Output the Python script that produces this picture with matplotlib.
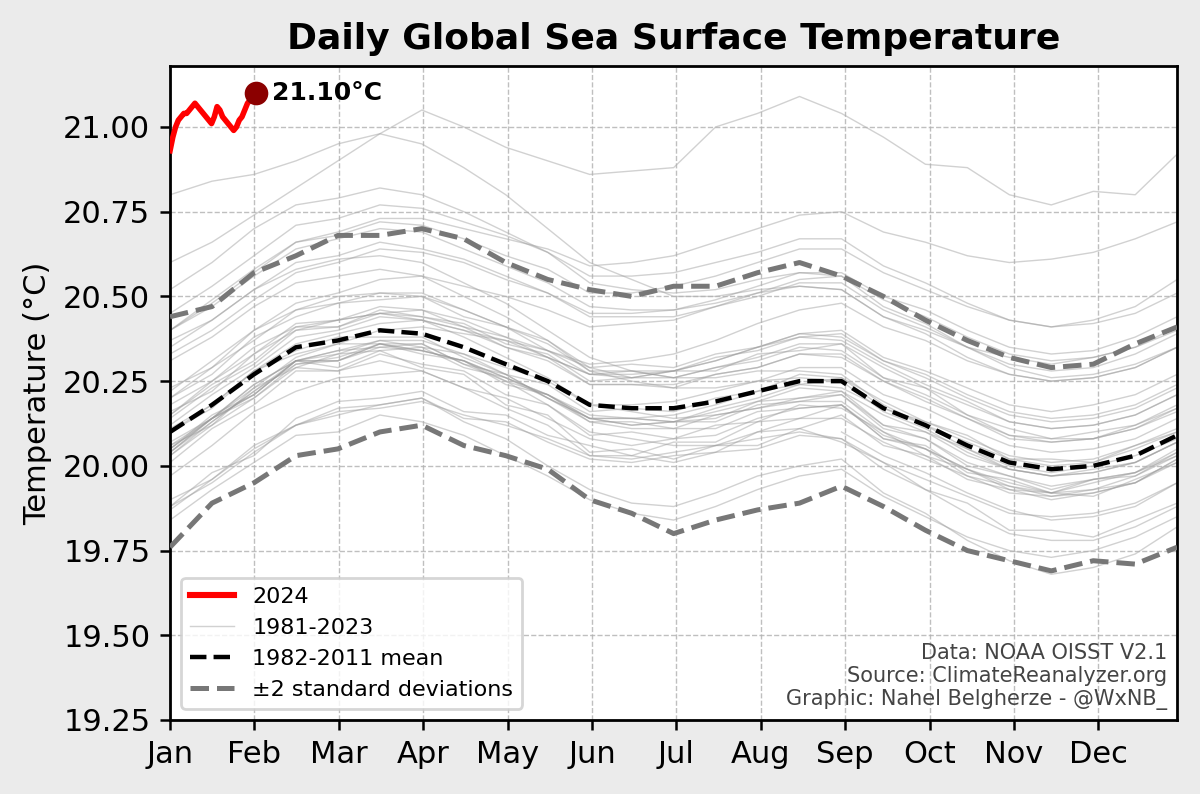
import numpy as np
import matplotlib.pyplot as plt

# ---- data (degC) ----
months = ['Jan', 'Feb', 'Mar', 'Apr', 'May', 'Jun', 'Jul', 'Aug', 'Sep', 'Oct', 'Nov', 'Dec']

# 2024 daily values, Jan 1 .. Feb 1
sst_2024 = [20.93, 20.97, 21.00, 21.02, 21.03, 21.04, 21.04, 21.05, 21.06, 21.07, 21.06,
            21.05, 21.04, 21.03, 21.02, 21.01, 21.03, 21.06, 21.05, 21.03, 21.02, 21.01,
            21.00, 20.99, 21.00, 21.02, 21.03, 21.05, 21.07, 21.08, 21.09, 21.10]

# climatology (25 samples through the year)
clim_mean = [20.10, 20.18, 20.27, 20.35, 20.37, 20.40, 20.39, 20.35, 20.30, 20.25, 20.18, 20.17, 20.17,
             20.19, 20.22, 20.25, 20.25, 20.17, 20.12, 20.06, 20.01, 19.99, 20.00, 20.03, 20.09]
clim_upper = [20.44, 20.47, 20.57, 20.62, 20.68, 20.68, 20.70, 20.67, 20.60, 20.55, 20.52, 20.50, 20.53,
              20.53, 20.57, 20.60, 20.56, 20.50, 20.43, 20.37, 20.32, 20.29, 20.30, 20.36, 20.41]
clim_lower = [19.76, 19.89, 19.95, 20.03, 20.05, 20.10, 20.12, 20.06, 20.03, 19.99, 19.90, 19.86, 19.80,
              19.84, 19.87, 19.89, 19.94, 19.88, 19.81, 19.75, 19.72, 19.69, 19.72, 19.71, 19.76]

# past years (same 25 samples); 1981 record starts in September
sst_1981 = [20.10, 20.03, 19.98, 19.92, 19.87, 19.84, 19.85, 19.88, 19.95]
sst_1982 = [19.88, 19.98, 20.03, 20.14, 20.19, 20.20, 20.22, 20.16, 20.15, 20.09, 20.06, 20.03, 20.07, 20.07, 20.13, 20.14, 20.18, 20.08, 20.06, 19.98, 19.96, 19.92, 19.96, 19.97, 20.04]
sst_1983 = [20.05, 20.15, 20.21, 20.31, 20.29, 20.34, 20.29, 20.27, 20.18, 20.15, 20.04, 20.05, 20.02, 20.06, 20.06, 20.11, 20.07, 20.01, 19.93, 19.89, 19.81, 19.81, 19.79, 19.84, 19.89]
sst_1984 = [19.90, 19.96, 20.05, 20.12, 20.15, 20.18, 20.20, 20.13, 20.08, 20.00, 19.93, 19.89, 19.88, 19.92, 19.97, 20.00, 20.02, 19.92, 19.86, 19.78, 19.72, 19.68, 19.70, 19.74, 19.82]
sst_1985 = [19.84, 19.93, 20.01, 20.09, 20.10, 20.15, 20.13, 20.09, 20.03, 19.97, 19.90, 19.86, 19.84, 19.88, 19.93, 19.97, 19.99, 19.91, 19.85, 19.79, 19.75, 19.73, 19.75, 19.79, 19.85]
sst_1986 = [19.87, 19.96, 20.06, 20.12, 20.17, 20.18, 20.20, 20.14, 20.13, 20.07, 20.02, 20.01, 20.03, 20.04, 20.10, 20.11, 20.15, 20.06, 20.03, 19.96, 19.93, 19.90, 19.92, 19.95, 20.02]
sst_1987 = [20.04, 20.14, 20.21, 20.31, 20.33, 20.37, 20.35, 20.33, 20.27, 20.24, 20.16, 20.17, 20.16, 20.20, 20.22, 20.27, 20.26, 20.19, 20.13, 20.09, 20.02, 20.02, 20.01, 20.06, 20.10]
sst_1988 = [20.10, 20.17, 20.28, 20.33, 20.36, 20.36, 20.36, 20.30, 20.25, 20.18, 20.10, 20.08, 20.06, 20.06, 20.08, 20.10, 20.08, 19.99, 19.93, 19.86, 19.80, 19.78, 19.78, 19.82, 19.88]
sst_1989 = [19.88, 19.95, 20.04, 20.12, 20.16, 20.17, 20.19, 20.15, 20.12, 20.08, 20.03, 20.02, 20.04, 20.06, 20.10, 20.14, 20.14, 20.07, 20.02, 19.97, 19.92, 19.91, 19.92, 19.95, 20.01]
sst_1990 = [20.03, 20.13, 20.22, 20.31, 20.31, 20.36, 20.34, 20.31, 20.24, 20.21, 20.13, 20.13, 20.11, 20.15, 20.17, 20.20, 20.21, 20.12, 20.08, 20.01, 19.97, 19.94, 19.96, 19.98, 20.05]
sst_1991 = [20.06, 20.12, 20.23, 20.29, 20.33, 20.34, 20.35, 20.29, 20.26, 20.20, 20.14, 20.12, 20.13, 20.14, 20.19, 20.20, 20.22, 20.12, 20.10, 20.03, 19.99, 19.97, 19.99, 20.01, 20.07]
sst_1992 = [20.05, 20.14, 20.20, 20.29, 20.28, 20.31, 20.28, 20.23, 20.17, 20.12, 20.03, 20.03, 20.01, 20.04, 20.05, 20.09, 20.08, 20.01, 19.96, 19.91, 19.86, 19.85, 19.86, 19.89, 19.95]
sst_1993 = [19.97, 20.06, 20.16, 20.22, 20.26, 20.27, 20.28, 20.23, 20.20, 20.14, 20.08, 20.06, 20.08, 20.09, 20.14, 20.17, 20.18, 20.09, 20.05, 19.99, 19.95, 19.92, 19.95, 19.98, 20.03]
sst_1994 = [20.04, 20.14, 20.21, 20.31, 20.31, 20.36, 20.33, 20.31, 20.26, 20.21, 20.15, 20.14, 20.15, 20.18, 20.22, 20.24, 20.26, 20.17, 20.13, 20.08, 20.03, 20.01, 20.02, 20.06, 20.11]
sst_1995 = [20.11, 20.18, 20.28, 20.34, 20.38, 20.38, 20.38, 20.32, 20.27, 20.20, 20.13, 20.11, 20.11, 20.11, 20.16, 20.17, 20.18, 20.08, 20.05, 19.97, 19.94, 19.91, 19.93, 19.95, 20.02]
sst_1996 = [20.01, 20.11, 20.18, 20.28, 20.28, 20.33, 20.30, 20.28, 20.21, 20.18, 20.09, 20.10, 20.08, 20.12, 20.13, 20.18, 20.17, 20.10, 20.03, 19.99, 19.93, 19.92, 19.91, 19.96, 20.01]
sst_1997 = [20.05, 20.14, 20.23, 20.32, 20.36, 20.40, 20.41, 20.39, 20.37, 20.34, 20.30, 20.31, 20.33, 20.37, 20.42, 20.46, 20.48, 20.41, 20.37, 20.31, 20.27, 20.25, 20.26, 20.29, 20.35]
sst_1998 = [20.37, 20.43, 20.52, 20.58, 20.61, 20.62, 20.60, 20.54, 20.48, 20.40, 20.32, 20.28, 20.26, 20.26, 20.28, 20.28, 20.27, 20.18, 20.12, 20.05, 19.99, 19.97, 19.98, 20.01, 20.07]
sst_1999 = [20.07, 20.14, 20.24, 20.31, 20.34, 20.35, 20.36, 20.30, 20.27, 20.20, 20.14, 20.12, 20.13, 20.13, 20.18, 20.19, 20.21, 20.11, 20.08, 20.00, 19.97, 19.93, 19.96, 19.98, 20.04]
sst_2000 = [20.04, 20.13, 20.22, 20.30, 20.32, 20.36, 20.34, 20.31, 20.26, 20.21, 20.14, 20.14, 20.13, 20.16, 20.19, 20.23, 20.22, 20.15, 20.10, 20.05, 20.00, 19.98, 20.00, 20.03, 20.08]
sst_2001 = [20.12, 20.21, 20.29, 20.38, 20.40, 20.44, 20.43, 20.40, 20.35, 20.31, 20.24, 20.24, 20.23, 20.27, 20.29, 20.33, 20.32, 20.25, 20.19, 20.14, 20.08, 20.07, 20.08, 20.11, 20.16]
sst_2002 = [20.16, 20.22, 20.33, 20.40, 20.43, 20.45, 20.46, 20.41, 20.38, 20.32, 20.27, 20.26, 20.28, 20.31, 20.35, 20.38, 20.39, 20.31, 20.27, 20.21, 20.16, 20.14, 20.15, 20.18, 20.24]
sst_2003 = [20.23, 20.29, 20.40, 20.46, 20.50, 20.51, 20.51, 20.46, 20.41, 20.36, 20.28, 20.28, 20.26, 20.29, 20.31, 20.35, 20.34, 20.26, 20.21, 20.15, 20.09, 20.08, 20.08, 20.12, 20.17]
sst_2004 = [20.15, 20.24, 20.31, 20.41, 20.41, 20.46, 20.44, 20.41, 20.35, 20.32, 20.24, 20.24, 20.24, 20.27, 20.29, 20.33, 20.33, 20.25, 20.20, 20.14, 20.09, 20.07, 20.08, 20.11, 20.17]
sst_2005 = [20.20, 20.27, 20.38, 20.44, 20.48, 20.49, 20.50, 20.44, 20.41, 20.34, 20.29, 20.26, 20.28, 20.28, 20.33, 20.34, 20.36, 20.26, 20.23, 20.15, 20.11, 20.08, 20.10, 20.12, 20.18]
sst_2006 = [20.14, 20.23, 20.30, 20.40, 20.41, 20.45, 20.44, 20.42, 20.36, 20.33, 20.25, 20.26, 20.26, 20.29, 20.32, 20.36, 20.36, 20.29, 20.23, 20.18, 20.13, 20.11, 20.12, 20.15, 20.21]
sst_2007 = [20.18, 20.25, 20.35, 20.41, 20.43, 20.45, 20.43, 20.38, 20.32, 20.26, 20.18, 20.16, 20.14, 20.15, 20.17, 20.19, 20.19, 20.10, 20.05, 19.99, 19.94, 19.92, 19.93, 19.97, 20.03]
sst_2008 = [20.03, 20.12, 20.20, 20.30, 20.31, 20.35, 20.34, 20.31, 20.25, 20.21, 20.14, 20.14, 20.13, 20.17, 20.20, 20.24, 20.23, 20.17, 20.12, 20.07, 20.02, 20.00, 20.01, 20.05, 20.10]
sst_2009 = [20.10, 20.18, 20.28, 20.36, 20.39, 20.42, 20.43, 20.40, 20.37, 20.32, 20.27, 20.27, 20.28, 20.31, 20.35, 20.39, 20.40, 20.32, 20.28, 20.23, 20.18, 20.16, 20.18, 20.21, 20.27]
sst_2010 = [20.31, 20.38, 20.47, 20.54, 20.56, 20.58, 20.56, 20.50, 20.44, 20.37, 20.28, 20.25, 20.23, 20.23, 20.25, 20.26, 20.25, 20.16, 20.11, 20.04, 19.99, 19.97, 19.98, 20.01, 20.07]
sst_2011 = [20.06, 20.14, 20.24, 20.31, 20.34, 20.37, 20.37, 20.33, 20.29, 20.25, 20.18, 20.18, 20.19, 20.22, 20.25, 20.29, 20.29, 20.21, 20.17, 20.11, 20.06, 20.04, 20.05, 20.08, 20.14]
sst_2012 = [20.15, 20.25, 20.33, 20.42, 20.43, 20.47, 20.46, 20.43, 20.38, 20.34, 20.27, 20.28, 20.28, 20.32, 20.34, 20.38, 20.37, 20.30, 20.24, 20.19, 20.13, 20.11, 20.12, 20.15, 20.21]
sst_2013 = [20.20, 20.29, 20.37, 20.46, 20.48, 20.51, 20.50, 20.46, 20.41, 20.37, 20.29, 20.30, 20.29, 20.33, 20.35, 20.39, 20.38, 20.31, 20.26, 20.20, 20.15, 20.13, 20.14, 20.17, 20.23]
sst_2014 = [20.22, 20.31, 20.40, 20.48, 20.51, 20.55, 20.56, 20.53, 20.50, 20.46, 20.41, 20.42, 20.43, 20.47, 20.51, 20.55, 20.56, 20.49, 20.44, 20.38, 20.33, 20.31, 20.32, 20.35, 20.41]
sst_2015 = [20.40, 20.49, 20.58, 20.66, 20.69, 20.73, 20.73, 20.70, 20.67, 20.64, 20.59, 20.60, 20.62, 20.66, 20.70, 20.74, 20.75, 20.69, 20.66, 20.62, 20.60, 20.61, 20.63, 20.67, 20.72]
sst_2016 = [20.80, 20.84, 20.86, 20.90, 20.95, 20.98, 20.95, 20.88, 20.80, 20.70, 20.60, 20.55, 20.50, 20.50, 20.52, 20.53, 20.52, 20.44, 20.40, 20.35, 20.32, 20.30, 20.32, 20.35, 20.40]
sst_2017 = [20.40, 20.47, 20.56, 20.64, 20.67, 20.70, 20.69, 20.64, 20.59, 20.54, 20.47, 20.46, 20.46, 20.48, 20.51, 20.53, 20.52, 20.44, 20.39, 20.32, 20.27, 20.25, 20.26, 20.29, 20.35]
sst_2018 = [20.33, 20.40, 20.49, 20.57, 20.60, 20.64, 20.63, 20.60, 20.55, 20.51, 20.45, 20.45, 20.46, 20.49, 20.53, 20.57, 20.57, 20.50, 20.46, 20.40, 20.35, 20.33, 20.34, 20.38, 20.44]
sst_2019 = [20.45, 20.53, 20.62, 20.71, 20.73, 20.77, 20.76, 20.72, 20.68, 20.63, 20.56, 20.56, 20.57, 20.60, 20.63, 20.67, 20.67, 20.59, 20.54, 20.48, 20.43, 20.41, 20.42, 20.45, 20.51]
sst_2020 = [20.52, 20.60, 20.70, 20.77, 20.79, 20.82, 20.80, 20.75, 20.69, 20.63, 20.54, 20.52, 20.51, 20.52, 20.55, 20.57, 20.56, 20.47, 20.42, 20.35, 20.29, 20.26, 20.27, 20.30, 20.35]
sst_2021 = [20.35, 20.43, 20.52, 20.60, 20.62, 20.66, 20.64, 20.61, 20.56, 20.51, 20.44, 20.44, 20.44, 20.47, 20.50, 20.54, 20.54, 20.46, 20.41, 20.35, 20.30, 20.28, 20.29, 20.33, 20.39]
sst_2022 = [20.40, 20.48, 20.57, 20.66, 20.68, 20.72, 20.71, 20.67, 20.62, 20.58, 20.51, 20.51, 20.53, 20.56, 20.60, 20.64, 20.64, 20.57, 20.52, 20.47, 20.43, 20.41, 20.43, 20.47, 20.55]
sst_2023 = [20.60, 20.66, 20.74, 20.82, 20.90, 20.98, 21.05, 21.00, 20.94, 20.90, 20.86, 20.87, 20.88, 21.00, 21.04, 21.09, 21.04, 20.97, 20.89, 20.88, 20.80, 20.77, 20.81, 20.80, 20.92]

past_years = [sst_1981, sst_1982, sst_1983, sst_1984, sst_1985, sst_1986, sst_1987, sst_1988,
              sst_1989, sst_1990, sst_1991, sst_1992, sst_1993, sst_1994, sst_1995, sst_1996,
              sst_1997, sst_1998, sst_1999, sst_2000, sst_2001, sst_2002, sst_2003, sst_2004,
              sst_2005, sst_2006, sst_2007, sst_2008, sst_2009, sst_2010, sst_2011, sst_2012,
              sst_2013, sst_2014, sst_2015, sst_2016, sst_2017, sst_2018, sst_2019, sst_2020,
              sst_2021, sst_2022, sst_2023]

# ---- positions (day of year) ----
year_len = 364
sample_days = np.linspace(0, year_len, len(clim_mean))
days_2024 = np.arange(len(sst_2024))

fig = plt.figure(figsize=(6, 3.97), dpi=200, facecolor='#ebebeb')
ax = fig.add_axes([0.1417, 0.0932, 0.8393, 0.8237])

for i, vals in enumerate(past_years):
    ax.plot(sample_days[-len(vals):], vals, color='#9a9a9a', alpha=0.45, linewidth=0.5,
            label='1981-2023' if i == 0 else None, zorder=1)

ax.plot(sample_days, clim_mean, color='black', linestyle='--', linewidth=1.6,
        label='1982-2011 mean', zorder=3)
ax.plot(sample_days, clim_upper, color='#777777', linestyle='--', linewidth=1.8,
        label='±2 standard deviations', zorder=3)
ax.plot(sample_days, clim_lower, color='#777777', linestyle='--', linewidth=1.8, zorder=3)

ax.plot(days_2024, sst_2024, color='red', linewidth=2.0, label='2024', zorder=4)
ax.plot(days_2024[-1], sst_2024[-1], 'o', color='darkred', markersize=7.5, zorder=5)
ax.annotate(f'{sst_2024[-1]:.2f}°C', (days_2024[-1], sst_2024[-1]), xytext=(6, 0),
            textcoords='offset points', va='center', ha='left', fontsize=9, fontweight='bold')

ax.set_xlim(0, year_len)
ax.set_ylim(19.25, 21.18)
ax.set_xticks(np.arange(12) * 30.5)
ax.set_xticklabels(months)
ax.set_yticks(np.arange(19.25, 21.01, 0.25))
ax.set_yticklabels([f'{v:.2f}' for v in np.arange(19.25, 21.01, 0.25)])
ax.tick_params(labelsize=11, length=3.6, width=0.9)
ax.grid(True, linestyle='--', color='#b0b0b0', linewidth=0.5, alpha=0.8)
for s in ax.spines.values():
    s.set_linewidth(1.0)

ax.set_ylabel('Temperature (°C)', fontsize=11)
ax.set_title('Daily Global Sea Surface Temperature', fontsize=13, fontweight='bold')

handles, labels = ax.get_legend_handles_labels()
order = [labels.index(l) for l in ['2024', '1981-2023', '1982-2011 mean', '±2 standard deviations']]
leg = ax.legend([handles[k] for k in order], [labels[k] for k in order], loc='lower left', fontsize=8)
leg.legend_handles[0].set_linewidth(2.2)

ax.text(0.99, 0.015, 'Data: NOAA OISST V2.1\nSource: ClimateReanalyzer.org\nGraphic: Nahel Belgherze - @WxNB_',
        transform=ax.transAxes, ha='right', va='bottom', fontsize=7.5, color='#444444',
        multialignment='right')

fig.savefig('out.png', dpi=200, facecolor=fig.get_facecolor())
